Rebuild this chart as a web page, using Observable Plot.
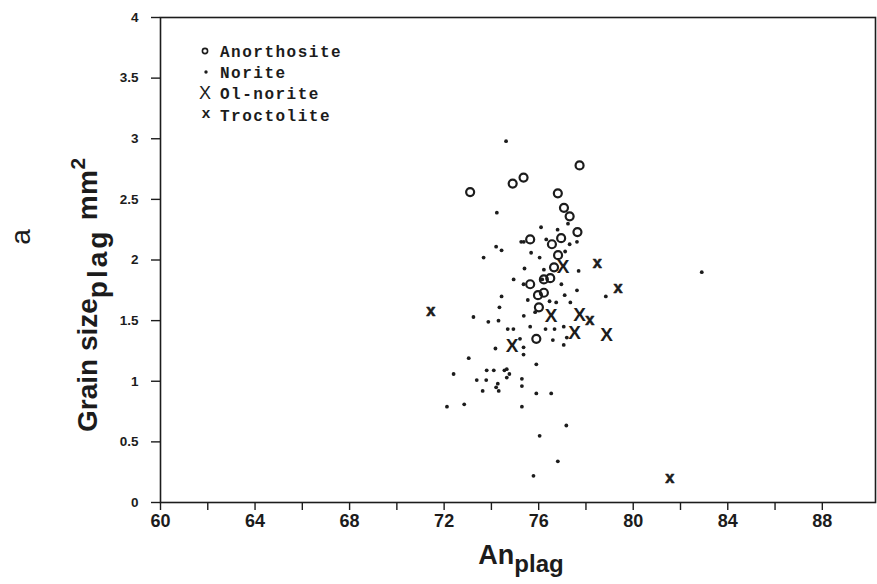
<!DOCTYPE html>
<html>
<head>
<meta charset="utf-8">
<script src="https://cdn.jsdelivr.net/npm/d3@7"></script>
<script src="https://cdn.jsdelivr.net/npm/@observablehq/plot@0.6"></script>
<style>
  html, body { margin: 0; padding: 0; background: #fff; }
  #chart { width: 877px; height: 584px; }
</style>
</head>
<body>
<div id="chart"></div>
<script>
// Plagioclase composition (An, mol %) against plagioclase grain size (mm²), by rock type.
const anorthosite = [
  [73.10, 2.56], [74.90, 2.63], [75.36, 2.68], [77.73, 2.78], [76.81, 2.55],
  [77.07, 2.43], [77.31, 2.36], [77.64, 2.23], [75.64, 2.17], [76.95, 2.18],
  [76.56, 2.13], [76.82, 2.04], [76.65, 1.94], [76.49, 1.85], [76.22, 1.84],
  [75.64, 1.80], [75.97, 1.71], [76.22, 1.73], [76.01, 1.61], [75.90, 1.35]
];

const norite = [
  [74.62, 2.98], [74.23, 2.39], [76.10, 2.27], [76.80, 2.25], [77.24, 2.30],
  [75.26, 2.15], [75.37, 2.15], [76.32, 2.17], [77.31, 2.13], [77.62, 2.15],
  [74.20, 2.11], [74.43, 2.08], [77.12, 2.07], [75.68, 2.06], [76.04, 2.02],
  [73.67, 2.02], [75.40, 1.93], [76.22, 1.92], [77.69, 1.91], [74.94, 1.84],
  [76.15, 1.84], [75.36, 1.80], [76.96, 1.80], [77.62, 1.75], [77.10, 1.71],
  [74.43, 1.70], [78.84, 1.70], [75.54, 1.67], [76.46, 1.66], [76.74, 1.65],
  [77.34, 1.65], [74.34, 1.61], [75.85, 1.57], [75.37, 1.54], [73.24, 1.53],
  [73.87, 1.49], [74.30, 1.50], [75.64, 1.45], [76.29, 1.43], [76.67, 1.43],
  [77.06, 1.45], [74.69, 1.43], [74.93, 1.43], [75.21, 1.35], [76.60, 1.34],
  [77.19, 1.36], [75.36, 1.28], [77.06, 1.30], [74.17, 1.27], [75.36, 1.22],
  [73.04, 1.19], [75.90, 1.14], [72.40, 1.06], [73.80, 1.09], [74.10, 1.09],
  [74.55, 1.09], [74.65, 1.10], [74.76, 1.06], [74.65, 1.03], [73.38, 1.01],
  [73.78, 1.01], [75.29, 1.02], [74.27, 0.98], [74.20, 0.95], [74.31, 0.92],
  [73.63, 0.92], [75.29, 0.96], [75.90, 0.90], [76.53, 0.90], [72.12, 0.79],
  [72.85, 0.81], [75.29, 0.79], [77.17, 0.635], [76.04, 0.55], [76.81, 0.34],
  [75.78, 0.22], [82.90, 1.90]
];

const olNorite = [
  [77.03, 1.94], [76.53, 1.54], [77.73, 1.55], [77.52, 1.40], [78.87, 1.38],
  [74.88, 1.29]
];

const troctolite = [
  [71.44, 1.56], [78.48, 1.96], [79.36, 1.75], [78.16, 1.49], [81.55, 0.19]
];

const legendLabels = ["Anorthosite", "Norite", "Ol-norite", "Troctolite"];
const xTicks = d3.range(60, 89, 2);
const yTicks = d3.range(0, 4.01, 0.5);

const toRows = (pairs) => pairs.map(([an, size]) => ({an, size}));

const ink = "#1c1c1c";
const sans = "'Liberation Sans', Arial, sans-serif";
const narrow = "'Liberation Sans Narrow', 'Arial Narrow', 'Liberation Sans', Arial, sans-serif";
const mono = "'Liberation Mono', 'Courier New', monospace";

const chart = Plot.plot({
  width: 877,
  height: 584,
  marginLeft: 160,
  marginRight: 2,
  marginTop: 17,
  marginBottom: 82,
  style: {fontFamily: sans, fontSize: "13px", fontWeight: "bold", color: ink, background: "#fff"},
  x: {domain: [60, 90.25]},
  y: {domain: [0, 4]},
  marks: [
    Plot.frame({stroke: ink, strokeWidth: 1.6}),
    Plot.axisX({ticks: xTicks, tickFormat: d => (d % 4 === 0 ? String(d) : ""), tickSize: 8, tickPadding: 4,
                label: null, strokeWidth: 1.4, fontSize: 18, fontFamily: narrow}),
    Plot.axisY({ticks: yTicks, tickFormat: d => String(d), tickSize: 9, tickPadding: 13,
                label: null, strokeWidth: 1.4, fontSize: 13.5}),
    Plot.dot(toRows(norite), {x: "an", y: "size", r: 1.9, fill: ink, stroke: null}),
    Plot.dot(toRows(anorthosite), {x: "an", y: "size", r: 4, fill: "none", stroke: ink, strokeWidth: 2.2}),
    Plot.text(toRows(olNorite), {x: "an", y: "size", text: () => "X", fontSize: 19, fontWeight: "bold",
                                 fontFamily: sans, fill: ink}),
    Plot.text(toRows(troctolite), {x: "an", y: "size", text: () => "x", fontSize: 16, fontWeight: "bold",
                                   fontFamily: mono, fill: ink, stroke: ink, strokeWidth: 0.6, dy: -2})
  ]
});

document.getElementById("chart").appendChild(chart);

// Axis titles with sub- and superscripts, the panel letter, and the symbol key.
const svg = d3.select(chart);

// Larger, condensed numerals along the An axis.
svg.selectAll('g[aria-label="x-axis tick label"]')
  .attr("font-size", 18)
  .attr("font-family", narrow)
  .attr("font-weight", 600)
  .selectAll("text").attr("font-size", 18);

const xTitle = svg.append("text")
  .attr("x", 521).attr("y", 564)
  .attr("text-anchor", "middle")
  .attr("font-family", sans).attr("font-size", 27).attr("font-weight", "bold")
  .attr("fill", ink);
xTitle.append("tspan").text("An");
xTitle.append("tspan").attr("dy", 8).attr("font-size", 24).text("plag");

const yTitle = svg.append("text")
  .attr("transform", "translate(97,432) rotate(-90)")
  .attr("text-anchor", "start")
  .attr("font-family", sans).attr("font-size", 28).attr("font-weight", "bold")
  .attr("fill", ink);
yTitle.append("tspan").text("Grain size");
yTitle.append("tspan").attr("dy", 10).attr("font-size", 28).attr("letter-spacing", "3px").text("plag");
yTitle.append("tspan").attr("dy", -10).attr("letter-spacing", "0.5px").text(" mm");
yTitle.append("tspan").attr("dy", -12).attr("font-size", 21).text("2");

svg.append("text")
  .attr("transform", "translate(30,237) rotate(-90)")
  .attr("text-anchor", "middle")
  .attr("font-family", sans).attr("font-size", 28).attr("font-weight", "normal")
  .attr("fill", ink)
  .text("a");

const legendRows = [51, 72, 93, 115];
const key = svg.append("g").attr("fill", ink);
legendLabels.forEach((label, i) => {
  key.append("text")
    .attr("x", 220).attr("y", legendRows[i]).attr("dy", "0.35em")
    .attr("text-anchor", "start")
    .attr("font-family", mono).attr("font-size", 16).attr("font-weight", "bold")
    .attr("letter-spacing", "1.5px")
    .text(label);
});
key.append("circle").attr("cx", 205).attr("cy", legendRows[0]).attr("r", 2.6)
  .attr("fill", "none").attr("stroke", ink).attr("stroke-width", 1.6);
key.append("circle").attr("cx", 206).attr("cy", legendRows[1]).attr("r", 1.7);
key.append("text").attr("x", 205).attr("y", legendRows[2]).attr("dy", "0.36em")
  .attr("text-anchor", "middle").attr("font-family", sans).attr("font-size", 18)
  .attr("font-weight", "normal").text("X");
key.append("text").attr("x", 206).attr("y", legendRows[3]).attr("dy", "0.2em")
  .attr("text-anchor", "middle").attr("font-family", mono).attr("font-size", 15)
  .attr("font-weight", "bold").text("x");
</script>
</body>
</html>
